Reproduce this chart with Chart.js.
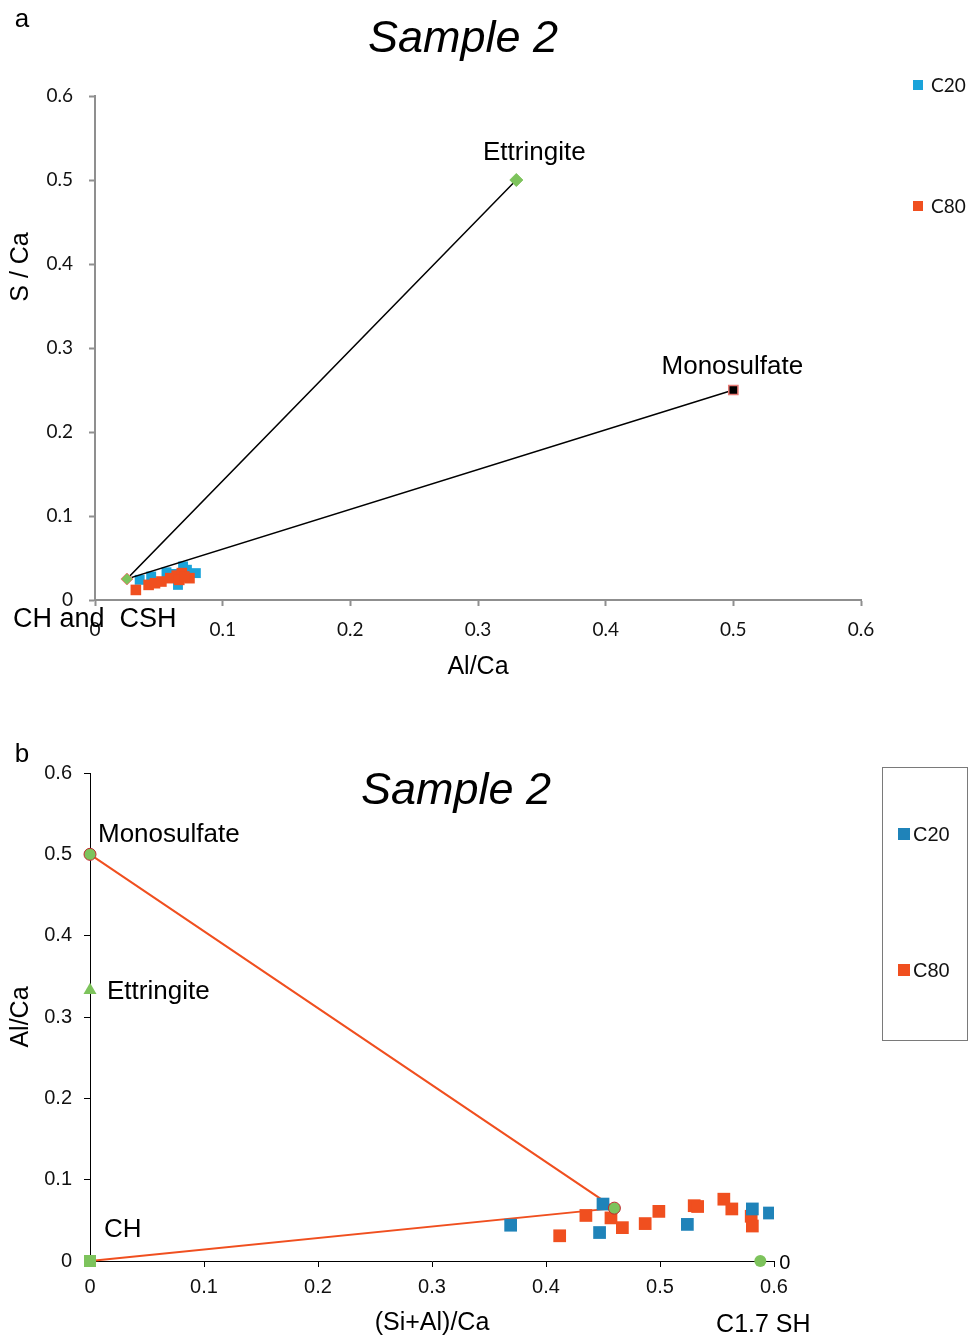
<!DOCTYPE html>
<html>
<head>
<meta charset="utf-8">
<script src="https://cdn.jsdelivr.net/npm/chart.js@4/dist/chart.umd.min.js"></script>
<style>
body{margin:0;background:#fff;width:970px;height:1336px;position:relative;overflow:hidden}
canvas{position:absolute;left:0}
#chartA{top:0}
#chartB{top:700px}
</style>
</head>
<body>
<canvas id="chartA" width="970" height="700"></canvas>
<canvas id="chartB" width="970" height="636"></canvas>
<script>
// shared ticks
const tickValues = [0, 0.1, 0.2, 0.3, 0.4, 0.5, 0.6]
const tickLabels = ["0", "0.1", "0.2", "0.3", "0.4", "0.5", "0.6"]
const seriesNames = ["C20", "C80"]

// panel a : S/Ca against Al/Ca
const aC20X = [0.035, 0.044, 0.056, 0.061, 0.069, 0.079, 0.065, 0.072]
const aC20Y = [0.024, 0.028, 0.033, 0.031, 0.040, 0.032, 0.018, 0.036]
const aC80X = [0.032, 0.042, 0.047, 0.052, 0.059, 0.064, 0.068, 0.074, 0.066, 0.070]
const aC80Y = [0.012, 0.018, 0.020, 0.022, 0.026, 0.029, 0.032, 0.026, 0.024, 0.028]
const aPhaseNames = ["CH and  CSH", "Ettringite", "Monosulfate"]
const aPhaseX = [0.025, 0.33, 0.5]
const aPhaseY = [0.025, 0.5, 0.25]
const aTieX = [0.33, 0.025, 0.5]
const aTieY = [0.5, 0.025, 0.25]

// panel b : Al/Ca against (Si+Al)/Ca
const bC20X = [0.369, 0.450, 0.447, 0.524, 0.581, 0.596]
const bC20Y = [0.044, 0.070, 0.035, 0.045, 0.064, 0.059]
const bC80X = [0.412, 0.435, 0.457, 0.467, 0.487, 0.499, 0.530, 0.533, 0.556, 0.563, 0.580, 0.581]
const bC80Y = [0.031, 0.056, 0.053, 0.041, 0.046, 0.061, 0.068, 0.067, 0.076, 0.064, 0.055, 0.043]
const bPhaseNames = ["Monosulfate", "Ettringite", "CH", "", "C1.7 SH"]
const bPhaseX = [0, 0, 0, 0.46, 0.588]
const bPhaseY = [0.5, 0.333, 0, 0.065, 0]
const bTieX = [0, 0.46, 0]
const bTieY = [0.5, 0.065, 0]

const pts = (xs, ys) => xs.map((x, i) => ({x: x, y: ys[i]}))

const green = "#7dc35c"
const orange = "#f04f1f"

// text, titles and legends drawn on the canvas (config kept out of chart options)
function makeTexts(id, cfg){
  return {
    id: id,
    afterDatasetsDraw(chart){
      const ctx = chart.ctx
      const xs = chart.scales.x, ys = chart.scales.y
      ctx.save()
      if(cfg.box){
        ctx.strokeStyle = "#7a7a7a"; ctx.lineWidth = 1
        ctx.strokeRect(cfg.box[0] + 0.5, cfg.box[1] + 0.5, cfg.box[2], cfg.box[3])
      }
      for(const l of cfg.legend){
        ctx.fillStyle = l.color
        ctx.fillRect(l.x - l.size/2, l.y - l.size/2, l.size, l.size)
        ctx.fillStyle = "#111"; ctx.font = l.font
        ctx.textAlign = "left"; ctx.textBaseline = "middle"
        ctx.fillText(l.text, l.x + l.gap, l.y + 1)
      }
      for(const t of cfg.items){
        let px = t.x, py = t.y
        if(t.at){
          px = xs.getPixelForValue(t.at[0]) + (t.dx || 0)
          py = ys.getPixelForValue(t.at[1]) + (t.dy || 0)
        }
        ctx.save()
        ctx.font = t.font
        ctx.fillStyle = "#000"
        ctx.textAlign = t.align || "center"
        ctx.textBaseline = "middle"
        ctx.translate(px, py)
        if(t.rot) ctx.rotate(t.rot)
        ctx.fillText(t.text, 0, t.rot ? 0 : 2)
        ctx.restore()
      }
      ctx.restore()
    }
  }
}

function axis(opts){
  return {
    type: "linear", min: 0, max: 0.6,
    afterBuildTicks: s => { s.ticks = tickValues.map(v => ({value: v})) },
    afterFit: s => { if(opts.width) s.width = opts.width; if(opts.height) s.height = opts.height },
    border: {color: opts.color, width: opts.lw},
    grid: {drawOnChartArea: false, drawTicks: true, tickLength: 6, color: opts.color, tickWidth: opts.lw},
    ticks: {
      padding: opts.pad, color: "#111",
      font: {family: opts.family, size: opts.size},
      callback: (v, i) => tickLabels[i],
      maxRotation: 0
    }
  }
}

Chart.defaults.font.family = "Liberation Sans"

// ---- panel a
const textsA = makeTexts("textsA", {
  legend: [
    {text: seriesNames[0], color: "#1aa3da", x: 918, y: 85, size: 10, gap: 13, font: "19px Lato"},
    {text: seriesNames[1], color: orange, x: 918, y: 206, size: 10, gap: 13, font: "19px Lato"}
  ],
  items: [
    {text: "a", x: 22, y: 18, font: "26px 'Liberation Sans'"},
    {text: "Sample 2", x: 463, y: 37, font: "italic 45px 'Liberation Sans'"},
    {text: aPhaseNames[1], at: [aPhaseX[1], aPhaseY[1]], dx: 18, dy: -29, font: "26px 'Liberation Sans'"},
    {text: aPhaseNames[2], at: [aPhaseX[2], aPhaseY[2]], dx: -1, dy: -25, font: "26px 'Liberation Sans'"},
    {text: aPhaseNames[0], x: 13, y: 618, align: "left", font: "27px 'Liberation Sans'"},
    {text: "Al/Ca", x: 478, y: 665, font: "25px 'Liberation Sans'"},
    {text: "S / Ca", x: 21, y: 267, rot: -Math.PI/2, font: "25px 'Liberation Sans'"}
  ]
})

new Chart(document.getElementById("chartA"), {
  type: "scatter",
  data: {
    datasets: [
      {
        label: "phases", data: pts(aPhaseX, aPhaseY), order: 0, clip: false,
        pointStyle: ["rectRot", "rectRot", "rect"],
        pointRadius: [6, 6.5, 6.5],
        backgroundColor: [green, green, "#000"],
        borderColor: ["#e8837a", green, "#e77a75"], borderWidth: [1, 1, 1.5]
      },
      {
        label: "tie", type: "line", data: pts(aTieX, aTieY), order: 1, clip: false,
        borderColor: "#000", borderWidth: 1.5, pointRadius: 0, fill: false, tension: 0
      },
      {
        label: seriesNames[0], data: pts(aC20X, aC20Y), order: 3,
        pointStyle: "rect", pointRadius: 7,
        backgroundColor: "#1aa3da", borderColor: "#1aa3da", borderWidth: 0
      },
      {
        label: seriesNames[1], data: pts(aC80X, aC80Y), order: 2,
        pointStyle: "rect", pointRadius: 7.5,
        backgroundColor: orange, borderColor: orange, borderWidth: 0
      }
    ]
  },
  options: {
    responsive: false, animation: false,
    layout: {padding: {top: 96, right: 109, left: 0, bottom: 0}},
    scales: {
      x: axis({height: 100, color: "#8f8f8f", lw: 2, pad: 12, family: "Lato", size: 19}),
      y: axis({width: 95, color: "#8f8f8f", lw: 2, pad: 16, family: "Lato", size: 19})
    },
    plugins: {legend: {display: false}, tooltip: {enabled: false}}
  },
  plugins: [textsA]
})

// ---- panel b
const textsB = makeTexts("textsB", {
  box: [882, 67, 85, 273],
  legend: [
    {text: seriesNames[0], color: "#1f83b9", x: 904, y: 134, size: 12, gap: 9, font: "20px 'Liberation Sans'"},
    {text: seriesNames[1], color: orange, x: 904, y: 270, size: 12, gap: 9, font: "20px 'Liberation Sans'"}
  ],
  items: [
    {text: "b", x: 22, y: 53, font: "26px 'Liberation Sans'"},
    {text: "Sample 2", x: 456, y: 89, font: "italic 45px 'Liberation Sans'"},
    {text: bPhaseNames[0], at: [bPhaseX[0], bPhaseY[0]], dx: 8, dy: -22, align: "left", font: "26px 'Liberation Sans'"},
    {text: bPhaseNames[1], at: [bPhaseX[1], bPhaseY[1]], dx: 17, dy: 0, align: "left", font: "26px 'Liberation Sans'"},
    {text: bPhaseNames[2], at: [bPhaseX[2], bPhaseY[2]], dx: 14, dy: -33, align: "left", font: "26px 'Liberation Sans'"},
    {text: String(bPhaseY[4]), at: [bPhaseX[4], bPhaseY[4]], dx: 19, dy: 0, align: "left", font: "20px 'Liberation Sans'"},
    {text: bPhaseNames[4], at: [bPhaseX[4], bPhaseY[4]], dx: 3, dy: 62, font: "25px 'Liberation Sans'"},
    {text: "(Si+Al)/Ca", x: 432, y: 621, font: "25px 'Liberation Sans'"},
    {text: "Al/Ca", x: 21, y: 317, rot: -Math.PI/2, font: "25px 'Liberation Sans'"}
  ]
})

new Chart(document.getElementById("chartB"), {
  type: "scatter",
  data: {
    datasets: [
      {
        label: "phases", data: pts(bPhaseX, bPhaseY), order: 0, clip: false,
        pointStyle: ["circle", "triangle", "rect", "circle", "circle"],
        pointRadius: [6, 7.5, 8.5, 6, 6],
        backgroundColor: green,
        borderColor: ["#c0282d", green, green, "#c0282d", green], borderWidth: [1, 0, 0, 1, 0]
      },
      {
        label: "tie", type: "line", data: pts(bTieX, bTieY), order: 3, clip: false,
        borderColor: orange, borderWidth: 2, pointRadius: 0, fill: false, tension: 0
      },
      {
        label: seriesNames[0], data: pts(bC20X, bC20Y), order: 1,
        pointStyle: "rect", pointRadius: 9,
        backgroundColor: "#1f83b9", borderColor: "#1f83b9", borderWidth: 0
      },
      {
        label: seriesNames[1], data: pts(bC80X, bC80Y), order: 2,
        pointStyle: "rect", pointRadius: 9,
        backgroundColor: orange, borderColor: orange, borderWidth: 0
      }
    ]
  },
  options: {
    responsive: false, animation: false,
    layout: {padding: {top: 73, right: 196, left: 0, bottom: 0}},
    scales: {
      x: axis({height: 75, color: "#000", lw: 1, pad: 8, family: "Liberation Sans", size: 20}),
      y: axis({width: 90, color: "#000", lw: 1, pad: 12, family: "Liberation Sans", size: 20})
    },
    plugins: {legend: {display: false}, tooltip: {enabled: false}}
  },
  plugins: [textsB]
})
</script>
</body>
</html>
